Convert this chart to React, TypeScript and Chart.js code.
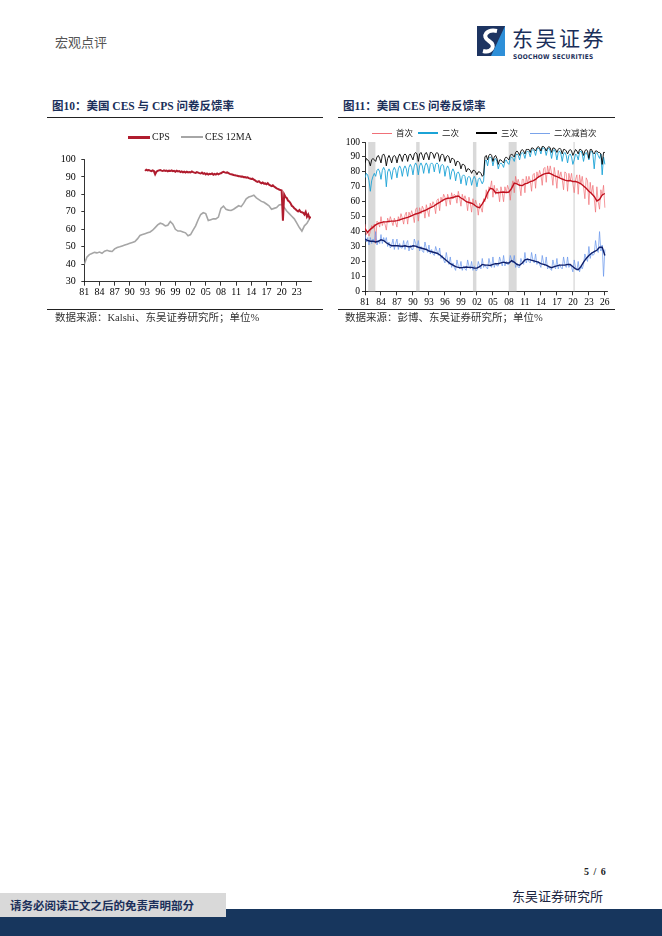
import { useEffect, useRef } from 'react';
import { Chart, registerables } from 'chart.js';

Chart.register(...registerables);

const SERIF = "'Liberation Serif', 'Noto Sans CJK SC', serif";
const CJK = "'Noto Sans CJK SC', 'Liberation Serif', sans-serif";
const NAVY = '#1b2f5a';

// 图10: 美国 CES 与 CPS 问卷反馈率
const ticks10 = [1981, 1984, 1987, 1990, 1993, 1996, 1999, 2002, 2005, 2008, 2011, 2014, 2017, 2020, 2023];
const cesStart = 1981; // half-yearly
const ces12ma = [
  40, 44, 45.5, 46.2, 46.8, 46.5, 47, 46.3, 47.5, 48, 47.5, 47.3, 48.8, 49.6, 50, 50.5,
  51, 51.5, 52, 52.5, 53, 54.5, 56.5, 57, 57.5, 58, 58.5, 59.5, 61, 62.5, 63.5, 63,
  62, 62.3, 64.5, 63, 60, 59, 59, 58.5, 58, 56.3, 57, 59.5, 62, 65.5, 68.5, 69.5,
  69, 65, 65.5, 66, 66, 67, 72, 73.3, 71.5, 71, 70.8, 71.5, 72.5, 73.5, 73, 75,
  77.5, 78.5, 79, 79.5, 78, 77, 76, 75.5, 74.5, 73.5, 71.5, 72, 72.5, 74, 74.3, 72.5,
  70.5, 69, 67.5, 66, 63.5, 61, 59, 62, 63.5, 66,
];
const cpsStart = 1993; // quarterly
const cps = [
  93.5, 94.2, 93.8, 94, 93.6, 93.3, 93.8, 93.4, 91.5, 93, 93.5, 93.8, 94, 93.6, 93.4, 93.8,
  93.5, 93.7, 93.2, 93.6, 93.4, 93.8, 93.3, 93.5, 93, 93.6, 93.2, 93.4, 92.8, 93.2, 92.7, 93,
  92.5, 93, 92.6, 92.8, 92.6, 93.2, 92.8, 92.5, 92.3, 92.8, 92.5, 92.2, 92, 92.5, 91.8, 92.2,
  91.5, 92, 91.4, 91.8, 91.6, 92, 91.3, 91.8, 91.4, 92, 91.5, 91.9, 92.1, 92.6, 92.9, 92.6,
  92.4, 92.6, 92.2, 91.8, 91.5, 91.4, 91.1, 91, 90.8, 90.7, 90.4, 90.4, 90.2, 90.3, 89.9, 90,
  89.6, 89.8, 89.3, 89.1, 88.8, 89, 88.4, 88, 87.5, 87.2, 87.6, 86.8, 86.4, 86.8, 86.2, 86.3,
  85.8, 86.4, 85.6, 85.2, 84.8, 85.2, 84.5, 84, 83.5, 83.2, 82.8, 82.5, 82.3, 65, 80, 78.5,
  78, 76.5, 76, 75, 73.5, 73, 72, 71.5, 70.8, 70.3, 71, 70, 69.8, 69.5, 68.5, 70,
  67.2, 68.5, 66.5, 67.2,
];

// 图11: 美国 CES 问卷反馈率
const ticks11 = [1981, 1984, 1987, 1990, 1993, 1996, 1999, 2002, 2005, 2008, 2011, 2014, 2017, 2020, 2023, 2026];
const recessions = [
  [1981.6, 1982.95],
  [1990.6, 1991.25],
  [2001.25, 2001.9],
  [2007.95, 2009.45],
  [2020.1, 2020.35],
];
const qStart = 1981; // quarterly
const first = [
  45, 38, 40, 37, 40, 44, 42, 45, 32, 47, 46, 43, 50, 44, 47, 45,
  41, 49, 46, 50, 47, 44, 49, 46, 43, 50, 47, 52, 49, 45, 51, 53,
  45, 53, 50, 54, 51, 46, 55, 56, 47, 56, 52, 57, 55, 49, 58, 54,
  50, 59, 56, 60, 58, 52, 61, 62, 54, 63, 60, 65, 63, 57, 65, 62,
  58, 66, 62, 65, 64, 59, 67, 63, 57, 65, 61, 64, 61, 54, 63, 59,
  53, 62, 57, 61, 58, 51, 59, 56, 53, 62, 60, 68, 62, 70, 69, 74,
  63, 71, 65, 69, 67, 60, 70, 66, 60, 70, 66, 71, 68, 61, 70, 74,
  66, 77, 72, 75, 71, 64, 75, 75, 66, 77, 72, 77, 74, 67, 78, 79,
  69, 80, 76, 81, 78, 71, 82, 83, 73, 84, 79, 84, 79, 71, 83, 77,
  69, 81, 76, 80, 75, 68, 80, 79, 67, 79, 74, 79, 72, 66, 75, 78,
  65, 78, 72, 77, 70, 62, 76, 74, 58, 73, 65, 71, 62, 53, 70, 60,
  55, 68, 64, 71, 56,
];
const second = [
  76, 79, 78, 74, 67, 74, 77, 79, 77, 81, 82, 80, 75, 81, 83, 81,
  70, 80, 82, 80, 75, 81, 83, 81, 76, 82, 84, 82, 77, 82, 84, 82,
  77, 83, 85, 83, 78, 84, 86, 84, 78, 84, 86, 84, 79, 84, 86, 84,
  79, 85, 86, 85, 80, 85, 86, 85, 79, 84, 85, 84, 77, 82, 84, 82,
  75, 80, 82, 80, 74, 79, 80, 78, 72, 77, 78, 77, 71, 76, 77, 76,
  71, 75, 77, 75, 70, 75, 76, 74, 72, 74, 87, 88, 84, 89, 90, 89,
  84, 88, 89, 87, 82, 85, 86, 85, 83, 87, 88, 86, 85, 89, 90, 89,
  87, 91, 92, 91, 88, 92, 93, 92, 89, 93, 94, 93, 90, 94, 95, 94,
  91, 95, 96, 95, 92, 96, 96, 95, 91, 95, 96, 94, 89, 94, 95, 93,
  88, 93, 94, 92, 87, 92, 93, 91, 86, 91, 92, 90, 85, 88, 92, 91,
  88, 93, 94, 92, 87, 92, 93, 91, 88, 93, 94, 92, 82, 92, 93, 91,
  89, 92, 78, 90, 85,
];
const third = [
  86, 89, 88, 87, 84, 88, 89, 88, 87, 90, 91, 89, 86, 91, 92, 90,
  84, 89, 91, 89, 86, 90, 91, 90, 86, 90, 92, 90, 87, 91, 92, 91,
  87, 91, 92, 90, 88, 92, 93, 92, 87, 92, 93, 91, 88, 92, 93, 91,
  88, 93, 93, 92, 89, 92, 93, 92, 87, 91, 92, 91, 87, 90, 91, 90,
  86, 89, 89, 88, 84, 87, 87, 86, 82, 85, 85, 84, 80, 82, 82, 81,
  79, 81, 81, 80, 78, 80, 80, 79, 77, 78, 90, 91, 88, 91, 92, 91,
  87, 90, 91, 89, 85, 88, 88, 87, 86, 89, 90, 89, 88, 91, 92, 91,
  90, 93, 94, 93, 91, 94, 95, 94, 92, 95, 95, 95, 93, 96, 96, 95,
  94, 96, 97, 96, 94, 97, 97, 96, 94, 96, 97, 96, 93, 96, 96, 95,
  93, 95, 96, 95, 92, 95, 95, 94, 92, 94, 95, 94, 91, 93, 95, 94,
  92, 95, 95, 94, 91, 94, 95, 94, 89, 95, 95, 93, 92, 94, 94, 93,
  93, 92, 85, 93, 93,
];
const gap = [
  38, 33, 36, 31, 36, 32, 35, 33, 40, 31, 34, 32, 38, 32, 36, 33,
  36, 30, 33, 29, 31, 35, 28, 32, 35, 28, 32, 29, 29, 34, 28, 32,
  34, 27, 31, 28, 28, 35, 32, 29, 34, 27, 30, 27, 26, 33, 29, 26,
  31, 25, 28, 25, 24, 30, 27, 24, 29, 22, 24, 21, 19, 26, 21, 18,
  23, 16, 19, 16, 14, 21, 17, 15, 20, 14, 17, 15, 14, 21, 17, 15,
  20, 14, 17, 14, 14, 20, 17, 15, 22, 16, 18, 16, 15, 22, 18, 16,
  23, 16, 19, 17, 17, 23, 20, 17, 24, 17, 20, 18, 18, 24, 21, 19,
  24, 16, 19, 16, 16, 22, 19, 18, 26, 19, 22, 20, 19, 26, 21, 19,
  25, 18, 20, 18, 16, 24, 19, 17, 23, 15, 17, 15, 14, 21, 17, 15,
  22, 15, 18, 16, 15, 23, 18, 16, 23, 16, 18, 16, 13, 21, 16, 14,
  20, 13, 17, 15, 18, 25, 22, 20, 30, 22, 26, 24, 25, 34, 28, 26,
  40, 27, 31, 10, 28,
];
const maStart = 1981; // half-yearly
const firstMa = [
  42, 39.5, 41.5, 43, 44.5, 45.5, 46, 46.5, 46.5, 46.8, 47, 47, 47.3, 47.8, 48.5, 49,
  49.5, 50.2, 51, 51.8, 52.3, 53, 53.8, 54.5, 55.5, 56.3, 57.3, 58.5, 59.5, 60.8, 61.8, 62.3,
  62.5, 62.8, 63.5, 63.8, 62.5, 61.5, 60, 59.5, 59, 58, 56.5, 56, 58.5, 61.5, 66, 69,
  68.5, 66, 66, 66.3, 66.5, 66.2, 66.5, 69, 72.5, 72, 71, 70.8, 72, 72.5, 73.5, 74,
  75, 76.5, 77.5, 78.5, 79, 79.2, 78.5, 77.5, 76.8, 76, 75.2, 74.5, 74, 74.2, 73.5, 73.5,
  73, 72, 70.5, 69, 67, 65.5, 63.5, 60.5, 61.5, 64.5, 65.5,
];
const gapMa = [
  35, 34, 33.5, 33.5, 33, 33.5, 34.5, 34, 32.5, 31.5, 30.5, 30.5, 30.5, 30.3, 30.2, 30.5,
  30, 29.8, 30.5, 30.3, 29.5, 29, 28.5, 28, 27, 26.5, 26, 25.5, 24.5, 23, 21.5, 20,
  18.5, 17.5, 16.5, 16, 15.8, 16, 16.3, 16, 16, 15.5, 15.5, 16.5, 18, 17.5, 17.5, 17.3,
  18, 18.5, 18.5, 19, 19.5, 19, 19, 20.5, 19.5, 18, 17.5, 19, 21, 21.5, 21, 20.5,
  20, 19.5, 18.5, 18, 17.5, 16.5, 15.8, 16.5, 17, 17.5, 17.5, 17.5, 18, 18, 16.5, 15,
  14.5, 16.5, 19.5, 22, 24, 25.5, 26.5, 27.5, 29.5, 29.5, 24,
];

const series = (start: number, step: number, values: number[]) =>
  values.map((y, i) => ({ x: start + i * step, y }));

function xAxis(min: number, max: number, tickYears: number[], height: number, size: number) {
  return {
    type: 'linear' as const,
    min,
    max,
    afterBuildTicks: (axis: any) => {
      axis.ticks = tickYears.map((value) => ({ value }));
    },
    afterFit: (axis: any) => {
      axis.height = height;
    },
    ticks: {
      autoSkip: false,
      maxRotation: 0,
      padding: 1,
      color: '#000',
      font: { family: SERIF, size },
      callback: (v: any) => String(Number(v) % 100).padStart(2, '0'),
    },
    grid: { drawOnChartArea: false, drawTicks: true, tickLength: 4, color: '#000', lineWidth: 0.8 },
    border: { color: '#000', width: 0.8 },
  };
}

function yAxis(min: number, max: number, width: number, pad: number, size: number) {
  return {
    min,
    max,
    afterFit: (axis: any) => {
      axis.width = width;
    },
    ticks: { stepSize: 10, padding: pad, color: '#000', font: { family: SERIF, size } },
    grid: { drawOnChartArea: false, drawTicks: true, tickLength: 3, color: '#000', lineWidth: 0.8 },
    border: { color: '#000', width: 0.8 },
  };
}

const line = (data: any[], color: string, width: number) => ({
  data,
  borderColor: color,
  backgroundColor: color,
  borderWidth: width,
  pointRadius: 0,
  tension: 0,
  fill: false,
});

function Chart10() {
  const ref = useRef<HTMLCanvasElement>(null);
  useEffect(() => {
    if (!ref.current) return;
    const chart = new Chart(ref.current, {
      type: 'line',
      data: {
        datasets: [
          { label: 'CPS', ...line(series(cpsStart, 0.25, cps), '#b01c2e', 2) },
          { label: 'CES 12MA', ...line(series(cesStart, 0.5, ces12ma), '#a6a6a6', 1.6) },
        ],
      },
      options: {
        animation: false,
        responsive: true,
        maintainAspectRatio: false,
        layout: { padding: { top: 10, right: 12, left: 0, bottom: 0 } },
        plugins: { legend: { display: false }, tooltip: { enabled: false } },
        scales: {
          x: xAxis(1981, 2025.8, ticks10, 23.3, 10),
          y: yAxis(30, 100, 37.3, 5.5, 10),
        },
      },
    });
    return () => chart.destroy();
  }, []);
  return (
    <div style={{ position: 'absolute', left: 47, top: 148, width: 276, height: 157 }}>
      <canvas ref={ref} />
    </div>
  );
}

function Chart11() {
  const ref = useRef<HTMLCanvasElement>(null);
  useEffect(() => {
    if (!ref.current) return;
    const bands = {
      id: 'bands',
      beforeDatasetsDraw(chart: any) {
        const { ctx, chartArea, scales } = chart;
        ctx.save();
        ctx.fillStyle = '#d9d9d9';
        recessions.forEach(([a, b]) => {
          const x0 = scales.x.getPixelForValue(a);
          const x1 = scales.x.getPixelForValue(b);
          ctx.fillRect(x0, chartArea.top, Math.max(x1 - x0, 1), chartArea.bottom - chartArea.top);
        });
        ctx.restore();
      },
    };
    const chart = new Chart(ref.current, {
      type: 'line',
      data: {
        datasets: [
          { label: '二次减首次 MA', ...line(series(maStart, 0.5, gapMa), '#0e1f6b', 1.4) },
          { label: '首次 MA', ...line(series(maStart, 0.5, firstMa), '#c0101e', 1.4) },
          { label: '三次', ...line(series(qStart, 0.25, third), '#000000', 0.9) },
          { label: '二次', ...line(series(qStart, 0.25, second), '#1ba3d6', 0.9) },
          { label: '二次减首次', ...line(series(qStart, 0.25, gap), 'rgba(105,150,235,0.8)', 0.9) },
          { label: '首次', ...line(series(qStart, 0.25, first), 'rgba(240,105,110,0.75)', 0.9) },
        ],
      },
      options: {
        animation: false,
        responsive: true,
        maintainAspectRatio: false,
        layout: { padding: { top: 10, right: 8, left: 0, bottom: 0 } },
        plugins: { legend: { display: false }, tooltip: { enabled: false } },
        scales: {
          x: xAxis(1981, 2026.4, ticks11, 19, 9.5),
          y: yAxis(0, 100, 35, 2, 9.5),
        },
      },
      plugins: [bands],
    });
    return () => chart.destroy();
  }, []);
  return (
    <div style={{ position: 'absolute', left: 330, top: 131.7, width: 285, height: 178.3 }}>
      <canvas ref={ref} />
    </div>
  );
}

const abs = (left: number, top: number, extra: any = {}) => ({ position: 'absolute' as const, left, top, ...extra });

function LegendItem({ x, y, w, h, color, text, tx, size, font }: any) {
  return (
    <>
      <div style={abs(x, y - h / 2, { width: w, height: h, background: color })} />
      <div style={abs(tx, y - size * 0.7, { fontSize: size, fontFamily: font, color: '#222', lineHeight: `${size * 1.4}px`, whiteSpace: 'nowrap' })}>
        {text}
      </div>
    </>
  );
}

export default function App() {
  return (
    <div style={{ position: 'absolute', left: 0, top: 0, width: 662, height: 936, background: '#fff', overflow: 'hidden', fontFamily: CJK }}>
      <div style={abs(55, 33, { fontSize: 13, color: '#555', lineHeight: '18px' })}>宏观点评</div>

      <svg style={abs(477, 26)} width="28" height="30" viewBox="0 0 28 30">
        <rect x="0" y="0" width="28" height="30" fill="#1d3461" />
        <path d="M28 0 L28 30 L14 30 Z" fill="#2e8fd8" />
        <path d="M20 5 C 10 3, 4 10, 12 15 C 20 20, 14 27, 6 25" stroke="#fff" strokeWidth="4" fill="none" />
      </svg>
      <div style={abs(512, 26.5, { fontSize: 21, color: NAVY, lineHeight: '21px', letterSpacing: 2.5 })}>东吴证券</div>
      <div style={abs(513, 53.5, { fontSize: 6.5, fontWeight: 700, color: NAVY, lineHeight: '6px', fontFamily: "'DejaVu Sans Condensed', 'Liberation Sans', sans-serif", letterSpacing: 0.3 })}>
        SOOCHOW SECURITIES
      </div>

      <div style={abs(52, 99, { fontSize: 11.5, fontWeight: 700, color: NAVY, lineHeight: '14px', fontFamily: SERIF, whiteSpace: 'nowrap' })}>
        图10：美国 CES 与 CPS 问卷反馈率
      </div>
      <div style={abs(47, 117, { width: 276, height: 1, background: '#222' })} />
      <div style={abs(343, 99, { fontSize: 11.5, fontWeight: 700, color: NAVY, lineHeight: '14px', fontFamily: SERIF, whiteSpace: 'nowrap' })}>
        图11：美国 CES 问卷反馈率
      </div>
      <div style={abs(338, 117, { width: 277, height: 1, background: '#222' })} />

      <Chart10 />
      <Chart11 />

      <LegendItem x={128} y={137.3} w={22} h={2.5} color="#b01c2e" text="CPS" tx={152} size={10} font={SERIF} />
      <LegendItem x={181} y={137.3} w={22} h={2} color="#a6a6a6" text="CES 12MA" tx={205} size={10} font={SERIF} />

      <LegendItem x={372} y={133} w={20} h={1} color="#f07078" text="首次" tx={396} size={8.5} font={CJK} />
      <LegendItem x={418} y={133} w={20} h={1.2} color="#1ba3d6" text="二次" tx={442} size={8.5} font={CJK} />
      <LegendItem x={476} y={133} w={21} h={1.2} color="#000" text="三次" tx={501} size={8.5} font={CJK} />
      <LegendItem x={530} y={133} w={20} h={1} color="#7aa3ea" text="二次减首次" tx={554} size={8.5} font={CJK} />

      <div style={abs(47, 309, { width: 276, height: 1, background: '#222' })} />
      <div style={abs(338, 309, { width: 277, height: 1, background: '#222' })} />
      <div style={abs(55, 311, { fontSize: 10.5, color: '#333', lineHeight: '14px', fontFamily: SERIF, whiteSpace: 'nowrap' })}>
        数据来源：Kalshi、东吴证券研究所；单位%
      </div>
      <div style={abs(345, 311, { fontSize: 10.5, color: '#333', lineHeight: '14px', fontFamily: SERIF, whiteSpace: 'nowrap' })}>
        数据来源：彭博、东吴证券研究所；单位%
      </div>

      <div style={abs(584, 866, { fontSize: 10, fontWeight: 700, fontFamily: SERIF, color: '#222', lineHeight: '12px', whiteSpace: 'pre', letterSpacing: 1 })}>5 / 6</div>
      <div style={abs(512, 887, { fontSize: 13, color: '#1b2440', lineHeight: '17px' })}>东吴证券研究所</div>
      <div style={abs(0, 909, { width: 662, height: 27, background: '#17365d' })} />
      <div style={abs(0, 893, { width: 226, height: 24, background: '#d9d9d9' })} />
      <div style={abs(10, 898, { fontSize: 11.5, fontWeight: 700, color: '#1b2f5a', lineHeight: '15px' })}>
        请务必阅读正文之后的免责声明部分
      </div>
    </div>
  );
}
